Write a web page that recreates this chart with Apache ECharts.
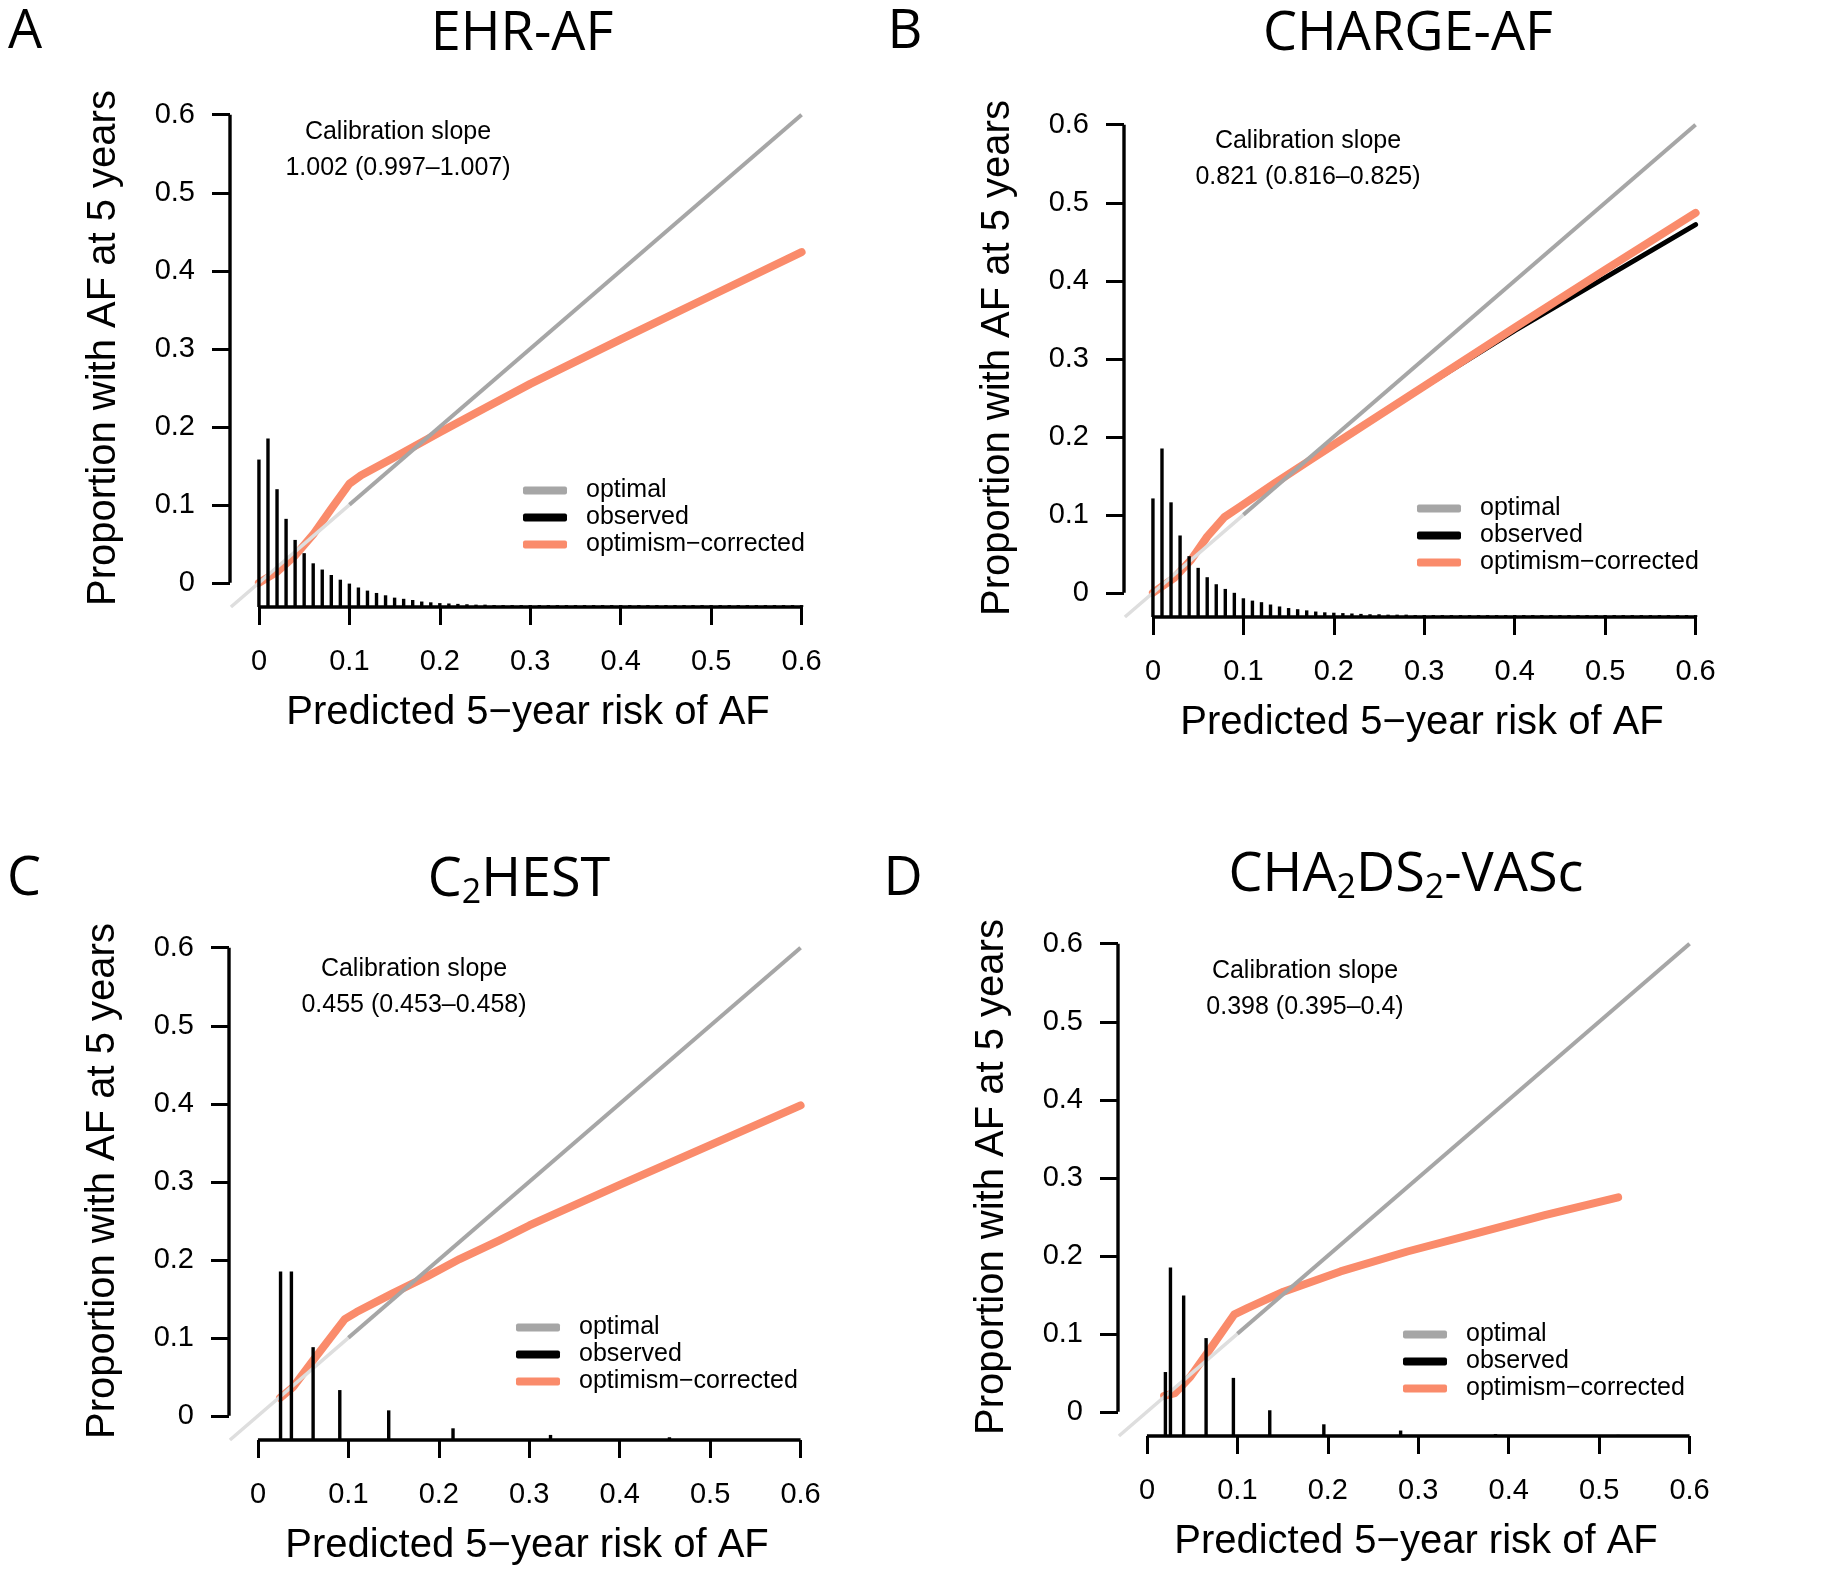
<!DOCTYPE html>
<html><head><meta charset="utf-8">
<script src="https://cdn.jsdelivr.net/npm/echarts@6/dist/echarts.min.js"></script>
<style>html,body{margin:0;padding:0;background:#fff}#chart{width:1843px;height:1577px}</style>
</head><body><div id="chart"></div><script>
// ---------- data ----------
const xTicks = [0, 0.1, 0.2, 0.3, 0.4, 0.5, 0.6];
const yTicks = [0, 0.1, 0.2, 0.3, 0.4, 0.5, 0.6];
const panelLetters = ['A', 'B', 'C', 'D'];
const panelTitles = ['EHR-AF', 'CHARGE-AF', 'C{s|2}HEST', 'CHA{s|2}DS{s|2}-VASc'];
const slopeLabel = 'Calibration slope';
const slopeValues = ['1.002 (0.997\u20131.007)', '0.821 (0.816\u20130.825)', '0.455 (0.453\u20130.458)', '0.398 (0.395\u20130.4)'];
const legendNames = ['optimal', 'observed', 'optimism\u2212corrected'];
const xTitle = 'Predicted 5\u2212year risk of AF';
const yTitle = 'Proportion with AF at 5 years';

// ideal calibration line y = x (dark part and faint lower extension)
const optimalLine = [[0.1, 0.1], [0.6, 0.6]];
const optimalLineLow = [[-0.031, -0.031], [0.1, 0.1]];

// histogram spikes of predicted risk (x position, top of spike)
const spikeX_A = [0,0.01,0.02,0.03,0.04,0.05,0.06,0.07,0.08,0.09,0.1,0.11,0.12,0.13,0.14,0.15,0.16,0.17,0.18,0.19,0.2,0.21,0.22,0.23,0.24,0.25,0.26,0.27,0.28,0.29,0.3,0.31,0.32,0.33,0.34,0.35,0.36,0.37,0.38,0.39,0.4,0.41,0.42,0.43,0.44,0.45,0.46,0.47,0.48,0.49,0.5,0.51,0.52,0.53,0.54,0.55,0.56,0.57,0.58,0.59,0.6];
const spikeTop_A = [0.158,0.185,0.120,0.082,0.055,0.038,0.025,0.017,0.010,0.004,-0.001,-0.006,-0.010,-0.013,-0.016,-0.019,-0.0205,-0.022,-0.024,-0.025,-0.026,-0.0265,-0.027,-0.0275,-0.028,-0.028,-0.0285,-0.0285,-0.0285,-0.0285,-0.0285,-0.0285,-0.0285,-0.0285,-0.0285,-0.0285,-0.0285,-0.0285,-0.0285,-0.0285,-0.0285,-0.0285,-0.0285,-0.0285,-0.0285,-0.0285,-0.0285,-0.0285,-0.0285,-0.0285,-0.0285,-0.0285,-0.0285,-0.0285,-0.0285,-0.0285,-0.0285,-0.0285,-0.0285,-0.0285,-0.0285];
const spikeX_B = [0,0.01,0.02,0.03,0.04,0.05,0.06,0.07,0.08,0.09,0.1,0.11,0.12,0.13,0.14,0.15,0.16,0.17,0.18,0.19,0.2,0.21,0.22,0.23,0.24,0.25,0.26,0.27,0.28,0.29,0.3,0.31,0.32,0.33,0.34,0.35,0.36,0.37,0.38,0.39,0.4,0.41,0.42,0.43,0.44,0.45,0.46,0.47,0.48,0.49,0.5,0.51,0.52,0.53,0.54,0.55,0.56,0.57,0.58,0.59,0.6];
const spikeTop_B = [0.121,0.185,0.116,0.0735,0.047,0.032,0.020,0.011,0.005,0.000,-0.007,-0.010,-0.012,-0.015,-0.0175,-0.0195,-0.021,-0.0225,-0.024,-0.025,-0.0255,-0.026,-0.0265,-0.027,-0.0275,-0.0275,-0.028,-0.028,-0.028,-0.0285,-0.0285,-0.0285,-0.0285,-0.0285,-0.0285,-0.0285,-0.0285,-0.0285,-0.0285,-0.0285,-0.0285,-0.0285,-0.0285,-0.0285,-0.0285,-0.0285,-0.0285,-0.0285,-0.0285,-0.0285,-0.0285,-0.0285,-0.0285,-0.0285,-0.0285,-0.0285,-0.0285,-0.0285,-0.0285,-0.0285,-0.0285];
const spikeX_C = [0.025, 0.037, 0.061, 0.0905, 0.1446, 0.2157, 0.3235, 0.455];
const spikeTop_C = [0.185, 0.185, 0.088, 0.033, 0.007, -0.016, -0.0245, -0.0275];
const spikeX_D = [0.0204, 0.026, 0.0406, 0.0654, 0.0956, 0.1358, 0.1956, 0.2805, 0.3854, 0.521];
const spikeTop_D = [0.051, 0.185, 0.149, 0.0945, 0.0435, 0.002, -0.016, -0.024, -0.0285, -0.0295];

// optimism-corrected calibration curves
const correctedA = [[0,0],[0.02,0.014],[0.04,0.035],[0.06,0.062],[0.08,0.095],[0.1,0.127],[0.113,0.138],[0.15,0.161],[0.2,0.193],[0.25,0.224],[0.3,0.255],[0.4,0.312],[0.5,0.368],[0.6,0.424]];
const correctedB = [[0,0],[0.0235,0.019],[0.042,0.042],[0.06,0.072],[0.079,0.097],[0.097,0.111],[0.134,0.14],[0.171,0.168],[0.2,0.19],[0.3,0.265],[0.4,0.34],[0.5,0.414],[0.6,0.487]];
const correctedC = [[0.0245,0.023],[0.039,0.037],[0.061,0.071],[0.096,0.124],[0.109,0.133],[0.149,0.157],[0.186,0.178],[0.223,0.201],[0.267,0.225],[0.3,0.244],[0.4,0.296],[0.5,0.347],[0.6,0.398]];
const correctedD = [[0.019,0.0205],[0.031,0.024],[0.048,0.045],[0.0665,0.075],[0.0967,0.125],[0.111,0.133],[0.151,0.154],[0.214,0.18],[0.288,0.2055],[0.362,0.228],[0.44,0.252],[0.521,0.275]];
// observed (apparent) curves; in A, C, D they lie under the corrected curve
const observedA = [[0,0],[0.02,0.014],[0.04,0.035],[0.06,0.062],[0.08,0.095],[0.1,0.127],[0.113,0.138],[0.15,0.161],[0.2,0.193],[0.25,0.224],[0.3,0.255],[0.4,0.312],[0.5,0.368],[0.6,0.423]];
const observedB = [[0,0],[0.0235,0.019],[0.042,0.042],[0.06,0.072],[0.079,0.097],[0.097,0.111],[0.134,0.14],[0.171,0.168],[0.2,0.19],[0.3,0.264],[0.4,0.336],[0.5,0.404],[0.6,0.472]];
const observedC = [[0.0245,0.023],[0.039,0.037],[0.061,0.071],[0.096,0.124],[0.109,0.133],[0.149,0.157],[0.186,0.178],[0.223,0.201],[0.267,0.225],[0.3,0.244],[0.4,0.296],[0.5,0.347],[0.6,0.397]];
const observedD = [[0.019,0.0205],[0.031,0.024],[0.048,0.045],[0.0665,0.075],[0.0967,0.125],[0.111,0.133],[0.151,0.154],[0.214,0.18],[0.288,0.2055],[0.362,0.228],[0.44,0.252],[0.521,0.274]];

// ---------- layout / style ----------
const X_MIN = -0.032, X_MAX = 0.627, Y_MIN = -0.031, Y_MAX = 0.633;
const GRID_W = 596, GRID_H = 518;
const ORANGE = '#fa8b6b', GRAY = '#a6a6a6', LIGHT = '#dedede';
const SANS = '"Liberation Sans", Arial, sans-serif';
const TITLE_FONT = '"Open Sans", sans-serif';
const layout = [
  { left: 230, top: 89,  title: [522, 35],  letter: [25, 33],   note: [398, 132],  legend: [523, 477] },
  { left: 1124, top: 99, title: [1408, 35], letter: [905, 33],  note: [1308, 141], legend: [1417, 495] },
  { left: 229, top: 922, title: [519, 881], letter: [24, 880],  note: [414, 969],  legend: [516, 1314] },
  { left: 1118, top: 918, title: [1406, 876], letter: [903, 880], note: [1305, 971], legend: [1403, 1321] }
];
const panels = [
  { sx: spikeX_A, st: spikeTop_A, corr: correctedA, obs: observedA },
  { sx: spikeX_B, st: spikeTop_B, corr: correctedB, obs: observedB },
  { sx: spikeX_C, st: spikeTop_C, corr: correctedC, obs: observedC },
  { sx: spikeX_D, st: spikeTop_D, corr: correctedD, obs: observedD }
];

const grids = [], xAxes = [], yAxes = [], series = [], legends = [], graphics = [];
panels.forEach((p, i) => {
  const L = layout[i];
  grids.push({ left: L.left, top: L.top, width: GRID_W, height: GRID_H, containLabel: false });
  xAxes.push({
    type: 'value', gridIndex: i, min: X_MIN, max: X_MAX, position: 'bottom',
    axisLine: { show: false, onZero: false }, splitLine: { show: false },
    axisTick: { show: true, customValues: xTicks, length: 18, lineStyle: { color: '#000', width: 3 } },
    axisLabel: { customValues: xTicks, margin: 40, fontSize: 29, fontFamily: SANS, color: '#000' },
    name: xTitle, nameLocation: 'middle', nameGap: 86,
    nameTextStyle: { fontSize: 40, fontFamily: SANS, color: '#000' }
  });
  yAxes.push({
    type: 'value', gridIndex: i, min: Y_MIN, max: Y_MAX, position: 'left',
    axisLine: { show: false, onZero: false }, splitLine: { show: false },
    axisTick: { show: true, customValues: yTicks, length: 18, lineStyle: { color: '#000', width: 3 } },
    axisLabel: { customValues: yTicks, margin: 35, fontSize: 29, fontFamily: SANS, color: '#000' },
    name: yTitle, nameLocation: 'middle', nameGap: 106,
    nameTextStyle: { fontSize: 40, fontFamily: SANS, color: '#000' }
  });
  const common = { xAxisIndex: i, yAxisIndex: i, symbol: 'none', silent: true, animation: false };
  series.push(Object.assign({ type: 'line', name: 'observed', data: p.obs, z: 2,
    itemStyle: { color: '#000' }, lineStyle: { color: '#000', width: 5, cap: 'round', join: 'round' } }, common));
  series.push(Object.assign({ type: 'line', name: legendNames[2], data: p.corr, z: 3,
    itemStyle: { color: ORANGE }, lineStyle: { color: ORANGE, width: 8, cap: 'round', join: 'round' } }, common));
  series.push(Object.assign({ type: 'line', name: 'optimal-low', data: optimalLineLow, z: 4,
    itemStyle: { color: LIGHT }, lineStyle: { color: LIGHT, width: 3.5 } }, common));
  series.push(Object.assign({ type: 'line', name: 'optimal', data: optimalLine, z: 4,
    itemStyle: { color: GRAY }, lineStyle: { color: GRAY, width: 4 } }, common));
  series.push({
    type: 'custom', name: 'spikes', xAxisIndex: i, yAxisIndex: i, silent: true, animation: false, z: 5,
    data: p.sx.map((x, k) => [x, p.st[k]]),
    encode: { x: 0, y: 1 },
    renderItem: (params, api) => {
      const a = api.coord([api.value(0), Y_MIN]);
      const b = api.coord([api.value(0), api.value(1)]);
      return { type: 'line', shape: { x1: a[0], y1: a[1], x2: b[0], y2: b[1] },
        style: { stroke: '#000', lineWidth: 3.4 } };
    }
  });
  series.push(Object.assign({ type: 'line', name: 'x-axis-line', clip: false, z: 6,
    data: [[xTicks[0], Y_MIN], [xTicks[xTicks.length - 1], Y_MIN]],
    itemStyle: { color: '#000' }, lineStyle: { color: '#000', width: 3.4 } }, common));
  series.push(Object.assign({ type: 'line', name: 'y-axis-line', clip: false, z: 6,
    data: [[X_MIN, yTicks[0]], [X_MIN, yTicks[yTicks.length - 1]]],
    itemStyle: { color: '#000' }, lineStyle: { color: '#000', width: 3.4 } }, common));

  legends.push({
    data: legendNames, orient: 'vertical', left: L.legend[0], top: L.legend[1], padding: 0,
    itemWidth: 44, itemHeight: 8, itemGap: 0, icon: 'roundRect', selectedMode: false,
    textStyle: { fontFamily: SANS, fontSize: 25, lineHeight: 27, color: '#000', padding: [0, 0, 0, 14] }
  });

  graphics.push({ type: 'text', x: L.title[0], y: L.title[1], silent: true,
    style: { text: panelTitles[i], fontFamily: TITLE_FONT, fontSize: 54, fill: '#000',
      align: 'center', verticalAlign: 'middle', lineHeight: 58,
      rich: { s: { fontFamily: TITLE_FONT, fontSize: 34, lineHeight: 34, verticalAlign: 'bottom' } } } });
  graphics.push({ type: 'text', x: L.letter[0], y: L.letter[1], silent: true,
    style: { text: panelLetters[i], fontFamily: TITLE_FONT, fontSize: 54, fill: '#000',
      align: 'center', verticalAlign: 'middle' } });
  graphics.push({ type: 'text', x: L.note[0], y: L.note[1], silent: true,
    style: { text: slopeLabel, fontFamily: SANS, fontSize: 25, fill: '#000', align: 'center', verticalAlign: 'middle' } });
  graphics.push({ type: 'text', x: L.note[0], y: L.note[1] + 36, silent: true,
    style: { text: slopeValues[i], fontFamily: SANS, fontSize: 25, fill: '#000', align: 'center', verticalAlign: 'middle' } });
});

const chart = echarts.init(document.getElementById('chart'), null, { renderer: 'canvas' });
chart.setOption({
  animation: false,
  backgroundColor: '#ffffff',
  grid: grids, xAxis: xAxes, yAxis: yAxes, series: series, legend: legends, graphic: graphics
});
</script></body></html>
